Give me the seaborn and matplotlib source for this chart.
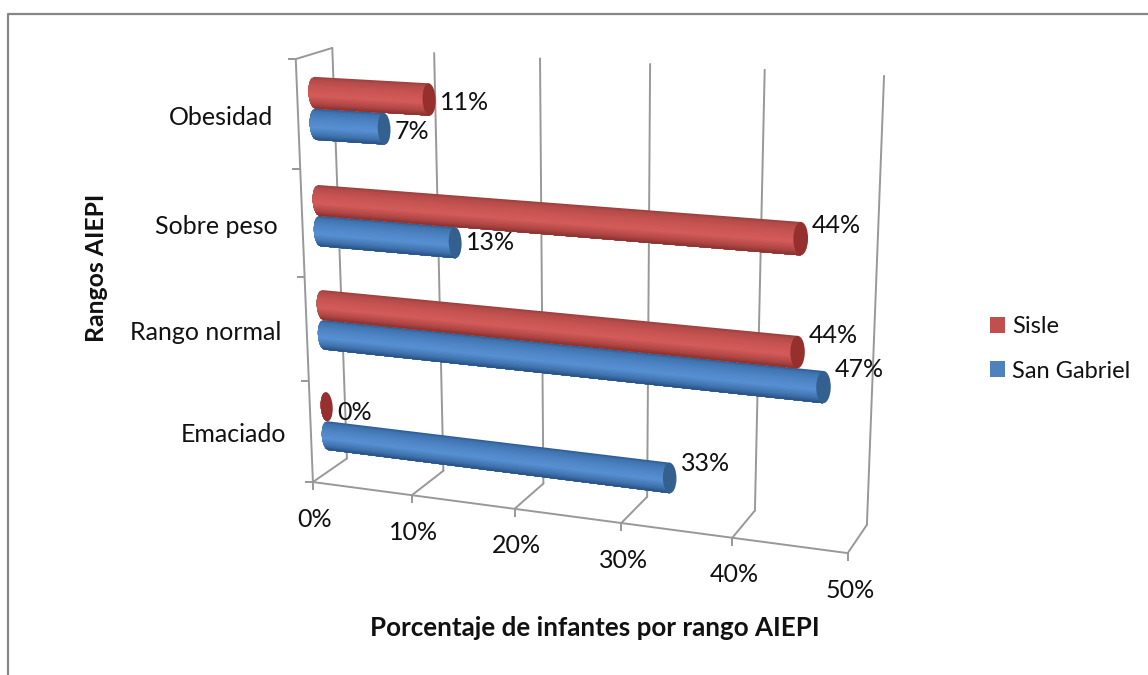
import numpy as np
import pandas as pd
import matplotlib
matplotlib.use("Agg")
import matplotlib.pyplot as plt
import seaborn as sns
from matplotlib.lines import Line2D
from matplotlib.patches import Ellipse, Patch
from matplotlib.transforms import Transform

categories = ["Emaciado", "Rango normal", "Sobre peso", "Obesidad"]
series_names = ["San Gabriel", "Sisle"]
san_gabriel = [33.3, 46.7, 13.3, 6.7]
sisle = [0, 44.4, 44.4, 11.1]
x_ticks = [0, 10, 20, 30, 40, 50]

W, H = 1148, 675
GRAY = "#989898"

# label shift above the end of each bar, pixels
san_gabriel_dy = [14, 18, 0, -3]
sisle_dy = [-6, 17, 13, -3]
# where the axis box corners sit in the picture: (value, category, depth) -> pixel
cal_3d = [(0, -.5, 0), (10, -.5, 0), (20, -.5, 0), (30, -.5, 0), (40, -.5, 0), (50, -.5, 0),
          (0, -.5, 1), (10, -.5, 1), (20, -.5, 1), (30, -.5, 1), (40, -.5, 1), (50, -.5, 1),
          (0, 3.5, 1), (10, 3.5, 1), (20, 3.5, 1), (30, 3.5, 1), (40, 3.5, 1), (50, 3.5, 1),
          (0, .5, 0), (0, 1.5, 0), (0, 2.5, 0), (0, 3.5, 0)]
cal_px = [(313, 483), (412, 495), (515, 509), (621, 523), (732, 537), (848, 553),
          (347, 458), (443, 471), (543, 483), (647, 497), (755, 511), (867, 525),
          (333, 48), (434, 53), (540, 58), (650, 64), (765, 70), (884, 76),
          (309, 381), (305, 277), (300, 168), (295, 60)]


def fit_camera(pts3, pts2):
    rows = []
    for (x, y, z), (u, v) in zip(pts3, pts2):
        v = H - v
        rows.append([x, y, z, 1, 0, 0, 0, 0, -u * x, -u * y, -u * z, -u])
        rows.append([0, 0, 0, 0, x, y, z, 1, -v * x, -v * y, -v * z, -v])
    return np.linalg.svd(np.array(rows, dtype=float))[2][-1].reshape(3, 4)


class PlaneTransform(Transform):
    input_dims = output_dims = 2
    is_affine = False
    has_inverse = False

    def __init__(self, mat):
        super().__init__()
        self.mat = mat

    def transform_non_affine(self, values):
        values = np.asarray(values, dtype=float)
        pts = np.column_stack([values, np.ones(len(values))]) @ self.mat.T
        return pts[:, :2] / pts[:, 2:]


P = fit_camera(cal_3d, cal_px)


def at_depth(z):
    return PlaneTransform(np.column_stack([P[:, 0], P[:, 1], z * P[:, 2] + P[:, 3]]))


wall_front, wall_back = at_depth(0), at_depth(1)
bars_plane = at_depth(0.47)
floor = PlaneTransform(np.column_stack([P[:, 0], P[:, 2], -.5 * P[:, 1] + P[:, 3]]))
side = PlaneTransform(np.column_stack([P[:, 1], P[:, 2], P[:, 3]]))

df = pd.DataFrame({
    "rango": categories * 2,
    "centro": [series_names[0]] * 4 + [series_names[1]] * 4,
    "pct": san_gabriel + sisle,
})

sns.set_theme(style="white")
plt.rcParams["font.family"] = ["Lato", "DejaVu Sans"]
fs = 18

fig = plt.figure(figsize=(W / 100, H / 100), dpi=100)
ax = fig.add_axes([0, 0, 1, 1])
sns.barplot(data=df, y="rango", x="pct", hue="centro", order=categories,
            hue_order=series_names, orient="h", width=0.58, gap=0, legend=False, ax=ax)
ax.axis("off")

# outer chart frame
fig.add_artist(Line2D([8 / W, 8 / W, 1], [0, 1 - 14 / H, 1 - 14 / H], color="#868686", lw=1.6))

# box lines
line = dict(color=GRAY, lw=1.4, clip_on=False, zorder=1)
for v in x_ticks:
    ax.plot([v, v], [-.5, 3.5], transform=wall_back, **line)
    ax.plot([v, v], [0, 1], transform=floor, **line)
ax.plot([0, 50], [0, 0], transform=floor, **line)
ax.plot([0, 0], [-.5, 3.5], transform=wall_front, **line)
ax.plot([3.5, 3.5], [0, 1], transform=side, **line)
ax.plot(x_ticks, [0] * 6, ls="", marker=3, ms=6, mew=1.4, color=GRAY, transform=floor, clip_on=False)
ax.plot([0] * 5, [-.5, .5, 1.5, 2.5, 3.5], ls="", marker=0, ms=6, mew=1.4, color=GRAY,
        transform=wall_front, clip_on=False)

# cylinders: barplot gives the geometry, shading goes on top in strips
stops = [0, .1, .35, .6, .85, 1]
shades = {
    "San Gabriel": (["#2b5a90", "#3f74b0", "#4f85c6", "#5790d3", "#3f72ad", "#274f80"], "#34608f"),
    "Sisle": (["#96403d", "#b54b49", "#c95553", "#d45c5a", "#b04644", "#853230"], "#95302e"),
}
rx = 0.62
n = 24
for cont, dys, name in zip(ax.containers, [san_gabriel_dy, sisle_dy], series_names):
    ramp, cap = shades[name]
    ramp_rgb = np.array([matplotlib.colors.to_rgb(c) for c in ramp])
    for bar, dy in zip(cont.patches, dys):
        x0, y0, w, h = bar.get_x(), bar.get_y(), bar.get_width(), bar.get_height()
        bar.set_transform(bars_plane)
        bar.set_visible(False)
        for k in range(n):
            # each strip runs from its top edge to the bar's bottom, the next one paints over it
            ts = np.linspace(k / n, 1, n + 1 - k)
            lefts = x0 - rx * np.sqrt(np.clip(1 - (2 * ts - 1) ** 2, 0, None))
            ys = y0 + h * (1 - ts)
            rgb = [np.interp((k + .5) / n, stops, ramp_rgb[:, c]) for c in range(3)]
            ax.fill(np.r_[x0 + w, lefts, x0 + w], np.r_[ys[0], ys, ys[-1]], color=rgb, lw=0,
                    transform=bars_plane, clip_on=False, zorder=3)
        ax.add_patch(Ellipse((x0 + w, y0 + h / 2), 2 * rx, h, fc=cap, lw=0,
                             transform=bars_plane, clip_on=False, zorder=3))
        ax.annotate(f"{w:.0f}%", xy=(x0 + w, y0 + h / 2), xycoords=bars_plane,
                    xytext=(11, dy), textcoords="offset pixels", ha="left", va="center",
                    fontsize=fs, color="#111111", zorder=5)

# tick labels
for v in x_ticks:
    ax.annotate(f"{v}%", xy=(v, 0), xycoords=floor, xytext=(2, -37), textcoords="offset pixels",
                ha="center", va="center", fontsize=fs, color="#111111")
for i, name in enumerate(categories):
    ax.annotate(name, xy=(0, i), xycoords=wall_front, xytext=(-25, -3), textcoords="offset pixels",
                ha="right", va="center", fontsize=fs, color="#111111")

fig.text(595 / W, 1 - 628 / H, "Porcentaje de infantes por rango AIEPI", ha="center", va="center",
         fontsize=fs + .7, fontweight="bold", color="#111111")
fig.text(97 / W, 1 - 268 / H, "Rangos AIEPI", rotation=90, ha="center", va="center",
         fontsize=fs - .2, fontweight="bold", color="#111111")

handles = [Patch(color="#c0504d", lw=0), Patch(color="#4f81bd", lw=0)]
ax.legend(handles, ["Sisle", "San Gabriel"], loc="center left", bbox_to_anchor=(990 / W, 1 - 349 / H),
          bbox_transform=fig.transFigure, frameon=False, fontsize=fs - 1, handlelength=0.64, handleheight=0.64,
          handletextpad=0.3, labelspacing=0.98, labelcolor="#111111", borderpad=0, borderaxespad=0)

fig.savefig("out.png", dpi=100)
